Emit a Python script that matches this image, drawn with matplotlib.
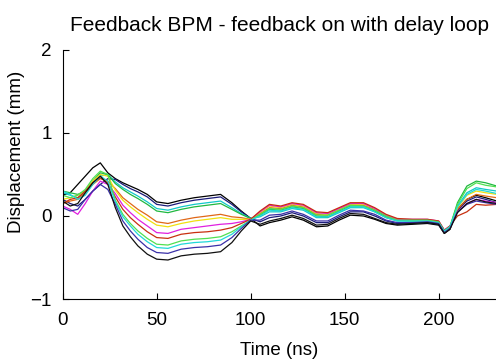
import matplotlib
matplotlib.use("Agg")
import matplotlib.pyplot as plt

plt.rcParams["font.family"] = ["Liberation Sans", "DejaVu Sans"]

# --- Data ---
t = [0, 4, 8, 12, 16, 20, 24, 28, 32, 36, 40, 45, 50, 56, 63, 70, 77, 84, 90, 95,
     100, 105, 110, 116, 122, 128, 135, 141, 147, 153, 160, 166, 172, 178, 186, 194,
     200, 203, 206, 210, 215, 220, 225, 231]

black_top = [0.25, 0.28, 0.38, 0.48, 0.58, 0.64, 0.52,
             0.45, 0.40, 0.36, 0.32, 0.26, 0.17, 0.15, 0.19, 0.22, 0.24, 0.26, 0.16, 0.06, -0.03,
             -0.12, -0.08, -0.05, -0.01, -0.05, -0.13, -0.12, -0.05, 0.01, 0.0, -0.04, -0.09, -0.11, -0.10, -0.09, -0.11, -0.21, -0.16,
             0.08, 0.20, 0.25, 0.22, 0.18]
navy = [0.20, 0.15, 0.12, 0.20, 0.30, 0.38, 0.45,
        0.44, 0.38, 0.33, 0.29, 0.23, 0.14, 0.12, 0.16, 0.19, 0.21, 0.23, 0.14, 0.05, -0.03,
        -0.07, -0.02, 0.0, 0.04, 0.0, -0.08, -0.08, -0.01, 0.05, 0.05, 0.0, -0.06, -0.09, -0.08, -0.08, -0.10, -0.20, -0.15,
        0.07, 0.18, 0.23, 0.20, 0.16]
cyan = [0.28, 0.25, 0.22, 0.28, 0.40, 0.48, 0.50,
        0.41, 0.34, 0.29, 0.24, 0.17, 0.09, 0.07, 0.11, 0.14, 0.16, 0.18, 0.10, 0.03, -0.03,
        -0.01, 0.05, 0.05, 0.09, 0.07, -0.02, -0.02, 0.04, 0.10, 0.10, 0.05, -0.02, -0.06, -0.06, -0.06, -0.08, -0.19, -0.14,
        0.12, 0.28, 0.34, 0.32, 0.30]
green = [0.30, 0.28, 0.26, 0.30, 0.42, 0.52, 0.50,
         0.39, 0.32, 0.26, 0.21, 0.14, 0.06, 0.04, 0.08, 0.11, 0.13, 0.15, 0.08, 0.02, -0.03,
         0.01, 0.08, 0.07, 0.11, 0.09, 0.0, -0.01, 0.06, 0.12, 0.12, 0.06, -0.01, -0.05, -0.06, -0.05, -0.07, -0.18, -0.13,
         0.16, 0.36, 0.42, 0.40, 0.36]
orange = [0.15, 0.18, 0.20, 0.28, 0.38, 0.45, 0.42,
          0.33, 0.22, 0.15, 0.08, 0.01, -0.07, -0.09, -0.05, -0.02, 0.0, 0.02, -0.01, -0.02, -0.04,
          0.03, 0.10, 0.09, 0.13, 0.11, 0.02, 0.01, 0.08, 0.14, 0.13, 0.08, 0.0, -0.04, -0.05, -0.05, -0.07, -0.18, -0.13,
          0.08, 0.20, 0.26, 0.24, 0.22]
yellow = [0.20, 0.22, 0.25, 0.30, 0.42, 0.50, 0.48,
          0.31, 0.19, 0.11, 0.04, -0.04, -0.11, -0.13, -0.09, -0.06, -0.04, -0.02, -0.04, -0.04, -0.04,
          0.04, 0.12, 0.10, 0.14, 0.12, 0.03, 0.02, 0.08, 0.14, 0.14, 0.09, 0.01, -0.04, -0.05, -0.05, -0.07, -0.18, -0.13,
          0.10, 0.25, 0.30, 0.28, 0.26]
magenta = [0.12, 0.08, 0.02, 0.15, 0.30, 0.42, 0.38,
           0.27, 0.13, 0.04, -0.04, -0.12, -0.20, -0.21, -0.16, -0.14, -0.12, -0.10, -0.09, -0.07, -0.04,
           0.05, 0.13, 0.11, 0.15, 0.13, 0.04, 0.03, 0.09, 0.15, 0.15, 0.09, 0.01, -0.04, -0.04, -0.04, -0.06, -0.17, -0.12,
           0.05, 0.15, 0.20, 0.18, 0.16]
red = [0.15, 0.20, 0.22, 0.30, 0.40, 0.46, 0.40,
       0.23, 0.08, -0.02, -0.10, -0.19, -0.26, -0.27, -0.22, -0.20, -0.19, -0.17, -0.14, -0.09, -0.04,
       0.06, 0.14, 0.12, 0.16, 0.14, 0.05, 0.04, 0.10, 0.16, 0.16, 0.10, 0.02, -0.03, -0.04, -0.04, -0.06, -0.17, -0.12,
       0.0, 0.05, 0.14, 0.13, 0.14]
light_green = [0.25, 0.22, 0.25, 0.32, 0.45, 0.54, 0.50,
               0.19, 0.02, -0.09, -0.18, -0.27, -0.34, -0.35, -0.30, -0.28, -0.27, -0.25, -0.19, -0.12, -0.05,
               0.02, 0.09, 0.08, 0.12, 0.10, 0.01, 0.01, 0.07, 0.13, 0.12, 0.07, 0.0, -0.05, -0.05, -0.05, -0.07, -0.18, -0.13,
               0.14, 0.33, 0.40, 0.37, 0.35]
cyan2 = [0.30, 0.26, 0.20, 0.25, 0.38, 0.48, 0.42,
         0.17, -0.01, -0.12, -0.22, -0.31, -0.38, -0.39, -0.34, -0.32, -0.31, -0.29, -0.22, -0.13, -0.05,
         0.0, 0.07, 0.06, 0.10, 0.08, -0.01, -0.01, 0.05, 0.11, 0.11, 0.05, -0.02, -0.06, -0.06, -0.06, -0.08, -0.18, -0.13,
         0.11, 0.26, 0.32, 0.30, 0.27]
blue = [0.10, 0.06, 0.08, 0.20, 0.30, 0.38, 0.32,
        0.14, -0.06, -0.18, -0.28, -0.38, -0.44, -0.45, -0.40, -0.38, -0.37, -0.35, -0.26, -0.15, -0.05,
        -0.05, 0.01, 0.02, 0.06, 0.02, -0.06, -0.06, 0.01, 0.07, 0.06, 0.02, -0.05, -0.08, -0.08, -0.07, -0.09, -0.20, -0.15,
        0.05, 0.14, 0.18, 0.16, 0.14]
black_bottom = [0.18, 0.12, 0.15, 0.28, 0.40, 0.48, 0.38,
                0.10, -0.12, -0.25, -0.36, -0.46, -0.52, -0.53, -0.48, -0.46, -0.45, -0.43, -0.32, -0.18, -0.06,
                -0.10, -0.06, -0.03, 0.01, -0.03, -0.11, -0.10, -0.03, 0.03, 0.02, -0.03, -0.08, -0.10, -0.09, -0.08, -0.10, -0.21, -0.16,
                0.04, 0.15, 0.20, 0.17, 0.15]

series = [black_top, navy, cyan, green, orange, yellow,
          magenta, red, light_green, cyan2, blue, black_bottom]
colors = ["#000000", "#1c1c7a", "#10c8c8", "#20b840", "#e06818", "#f0e010",
          "#e020e0", "#c83010", "#50e050", "#20d8d8", "#3a30a8", "#101010"]

# --- Plot ---
fig = plt.figure(figsize=(4.96, 3.62), dpi=100)
ax = fig.add_axes([0.1264, 0.174, 0.8736, 0.688])

for y, c in zip(series, colors):
    ax.plot(t, y, color=c, linewidth=0.9)

ax.set_xlim(0, 230.5)
ax.set_ylim(-1, 2)
ax.set_xticks([0, 50, 100, 150, 200])
ax.set_yticks([-1, 0, 1, 2])

ax.spines["top"].set_visible(False)
ax.spines["right"].set_visible(False)
ax.tick_params(direction="in", length=4, labelsize=13.5)
ax.tick_params(axis="x", pad=9)
ax.tick_params(axis="y", pad=8)

ax.set_title("Feedback BPM - feedback on with delay loop", fontsize=15, pad=14)
ax.set_xlabel("Time (ns)", fontsize=13.5, labelpad=10)
ax.set_ylabel("Displacement (mm)", fontsize=13.5)
ax.yaxis.set_label_coords(-0.088, 0.59)

fig.savefig("out.png", dpi=100)
